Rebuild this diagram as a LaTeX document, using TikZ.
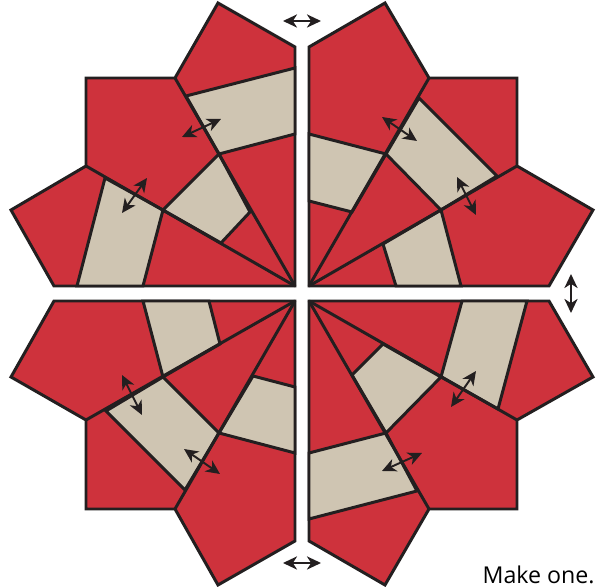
\documentclass[tikz,border=0pt]{standalone}
\usepackage{fontspec}
\setmainfont{Open Sans}
\usetikzlibrary{arrows.meta}

\definecolor{quiltred}{HTML}{CE323C}
\definecolor{quilttan}{HTML}{CFC5B2}
\definecolor{quiltline}{HTML}{231F20}

\tikzset{
  redpiece/.style={fill=quiltred,draw=quiltline,line width=1.7pt,line join=miter},
  tanpiece/.style={fill=quilttan,draw=quiltline,line width=1.7pt,line join=miter},
  seam/.style={draw=quiltline,line width=1.7pt},
  press/.style={draw=quiltline,line width=1.1pt,{Stealth[length=8pt,width=7.5pt,inset=2.4pt]}-{Stealth[length=8pt,width=7.5pt,inset=2.4pt]}}
}

\begin{document}
\begin{tikzpicture}[x=0.02cm,y=-0.02cm]

\useasboundingbox (0,0) rectangle (600,587);

%====================================================
% Quarter 0 : top left
%====================================================
\begin{scope}

% Pentagons
\draw[redpiece] (218,3)--(295,47)--(295,286)--(54,286)--(11,210)--(86,166)--(86,78)--(175,78)--cycle;

% Strips
\draw[tanpiece] (186,96)--(295,68)--(295,134)--(219,154)--cycle;
\draw[tanpiece] (105,178)--(163,210)--(143,286)--(77,286)--cycle;
\draw[tanpiece] (219,154)--(250,212)--(221,243)--(163,210)--cycle;

% Seams
\draw[seam] (175,78)--(295,286);
\draw[seam] (86,166)--(295,286);

\end{scope}
%====================================================
% Quarter 1 : top right
%====================================================
\begin{scope}

\draw[redpiece] (385,3)--(309,47)--(309,286)--(549,286)--(593,210)--(517,166)--(517,78)--(429,78)--cycle;

\draw[tanpiece] (309,134)--(386,154)--(352,212)--(309,201)--cycle;
\draw[tanpiece] (419,98)--(497,176)--(441,210)--(386,154)--cycle;
\draw[tanpiece] (383,244)--(441,210)--(461,286)--(396,286)--cycle;

\draw[seam] (429,78)--(309,286);
\draw[seam] (517,166)--(309,286);

\end{scope}
%====================================================
% Quarter 2 : bottom left
%====================================================
\begin{scope}

\draw[redpiece] (295,301)--(54,301)--(11,377)--(86,420)--(86,509)--(175,509)--(218,585)--(295,541)--cycle;

\draw[tanpiece] (143,301)--(209,301)--(220,344)--(163,377)--cycle;
\draw[tanpiece] (106,411)--(163,377)--(219,433)--(185,490)--cycle;
\draw[tanpiece] (253,376)--(295,387)--(295,453)--(219,433)--cycle;

\draw[seam] (295,301)--(86,420);
\draw[seam] (295,301)--(175,509);

\end{scope}
%====================================================
% Quarter 3 : bottom right
%====================================================
\begin{scope}

\draw[redpiece] (309,301)--(549,301)--(593,377)--(517,420)--(517,509)--(429,509)--(385,585)--(309,541)--cycle;

\draw[tanpiece] (462,301)--(527,301)--(498,409)--(441,377)--cycle;
\draw[tanpiece] (383,344)--(441,377)--(386,433)--(352,375)--cycle;
\draw[tanpiece] (386,433)--(417,491)--(309,519)--(309,453)--cycle;

\draw[seam] (309,301)--(517,420);
\draw[seam] (309,301)--(429,509);

\end{scope}

% Press arrows
\coordinate (pa1) at (182,137);
\coordinate (pb1) at (221,119);
\coordinate (pa2) at (147,178);
\coordinate (pb2) at (122,213);
\coordinate (pa3) at (382,117);
\coordinate (pb3) at (417,141);
\coordinate (pa4) at (457,177);
\coordinate (pb4) at (476,215);
\coordinate (pa5) at (122,375);
\coordinate (pb5) at (142,415);
\coordinate (pa6) at (184,449);
\coordinate (pb6) at (220,474);
\coordinate (pa7) at (476,371);
\coordinate (pb7) at (451,407);
\coordinate (pa8) at (422,453);
\coordinate (pb8) at (382,471);
\foreach \n in {1,...,8}
  \draw[press] (pa\n)--(pb\n);

% Arrows between the quarters
\coordinate (ta) at (283,21);
\coordinate (tb) at (321,21);
\coordinate (ra) at (571,274);
\coordinate (rb) at (571,313);
\coordinate (ba) at (283,563);
\coordinate (bb) at (321,563);
\draw[press] (ta)--(tb);
\draw[press] (ra)--(rb);
\draw[press] (ba)--(bb);

\node[anchor=base east,inner sep=0pt,font=\fontsize{13.2}{15}\selectfont] (makeone) at (595,584) {Make one.};

\end{tikzpicture}
\end{document}
